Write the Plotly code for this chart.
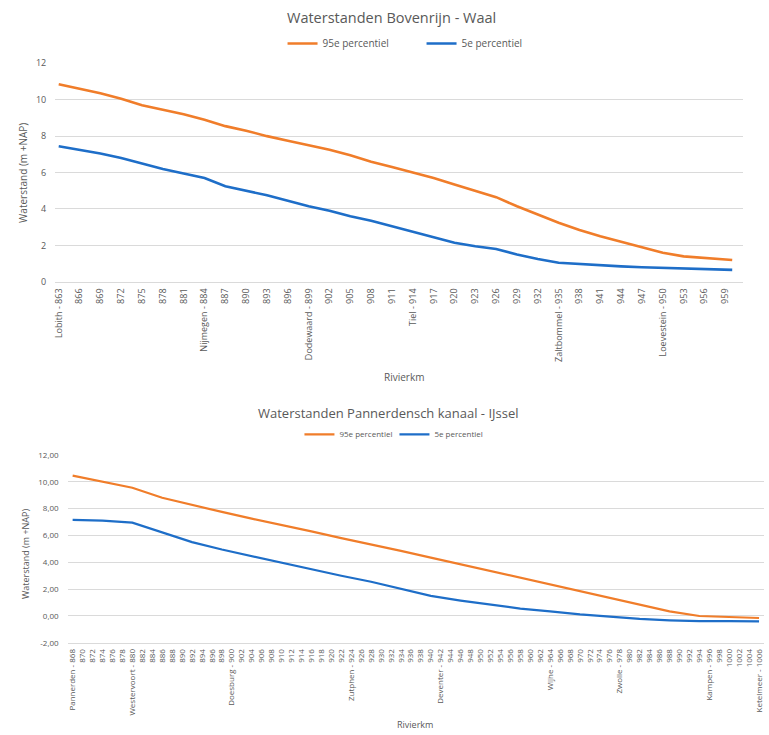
import plotly.graph_objects as go

W, H = 769, 735

# ---------- Top chart: Bovenrijn - Waal ----------
km_top = [863, 866, 869, 872, 875, 878, 881, 884, 887, 890, 893, 896, 899, 902, 905, 908,
          911, 914, 917, 920, 923, 926, 929, 932, 935, 938, 941, 944, 947, 950, 953, 956, 959, 960]
p95_top = [10.85, 10.6, 10.35, 10.05, 9.7, 9.45, 9.2, 8.9, 8.55, 8.3, 8.0, 7.75, 7.5, 7.25, 6.95, 6.6,
           6.3, 6.0, 5.7, 5.35, 5.0, 4.65, 4.15, 3.7, 3.25, 2.85, 2.5, 2.2, 1.9, 1.6, 1.4, 1.3, 1.22, 1.2]
p5_top = [7.45, 7.25, 7.05, 6.8, 6.5, 6.2, 5.95, 5.7, 5.25, 5.0, 4.75, 4.45, 4.15, 3.9, 3.6, 3.35,
          3.05, 2.75, 2.45, 2.15, 1.95, 1.8, 1.5, 1.25, 1.05, 0.97, 0.9, 0.85, 0.8, 0.76, 0.72, 0.7, 0.68, 0.66]
tick_km_top = list(range(863, 960, 3))
named_top = {863: "Lobith", 884: "Nijmegen", 899: "Dodewaard", 914: "Tiel",
             935: "Zaltbommel", 950: "Loevestein"}
tick_text_top = [f"{named_top[k]} - {k}" if k in named_top else str(k) for k in tick_km_top]
yticks_top = [0, 2, 4, 6, 8, 10, 12]

# ---------- Bottom chart: Pannerdensch kanaal - IJssel ----------
km_bot = [868, 874, 880, 886, 892, 898, 904, 910, 916, 922, 928, 934, 940, 946, 952, 958,
          964, 970, 976, 982, 988, 994, 1000, 1006]
p95_bot = [10.45, 10.0, 9.55, 8.8, 8.25, 7.75, 7.25, 6.8, 6.3, 5.8, 5.35, 4.85, 4.35, 3.85, 3.35, 2.85,
           2.35, 1.85, 1.35, 0.85, 0.35, 0.0, -0.08, -0.15]
p5_bot = [7.15, 7.1, 6.95, 6.2, 5.5, 4.95, 4.45, 4.0, 3.5, 3.0, 2.55, 2.0, 1.5, 1.15, 0.85, 0.55,
          0.35, 0.12, -0.05, -0.22, -0.32, -0.38, -0.38, -0.4]
tick_km_bot = list(range(868, 1007, 2))
named_bot = {868: "Pannerden", 880: "Westervoort", 900: "Doesburg", 924: "Zutphen",
             942: "Deventer", 964: "Wijhe", 978: "Zwolle", 996: "Kampen", 1006: "Ketelmeer"}
tick_text_bot = [f"{named_bot[k]} - {k}" if k in named_bot else str(k) for k in tick_km_bot]
yticks_bot = [-2, 0, 2, 4, 6, 8, 10, 12]
ytext_bot = [f"{v:.2f}".replace(".", ",") for v in yticks_bot]

ORANGE = "#F07D2A"
BLUE = "#1E6EC8"
TXT = "#595959"
GRID = "#DADADA"
FONT = "Open Sans"

def px_x(p):
    return p / W

def px_y(p):
    return 1 - p / H

fig = go.Figure()
fig.add_trace(go.Scatter(x=km_top, y=p95_top, mode="lines", name="95e percentiel",
                         line=dict(color=ORANGE, width=2.6), xaxis="x", yaxis="y", legend="legend"))
fig.add_trace(go.Scatter(x=km_top, y=p5_top, mode="lines", name="5e percentiel",
                         line=dict(color=BLUE, width=2.6), xaxis="x", yaxis="y", legend="legend"))
fig.add_trace(go.Scatter(x=km_bot, y=p95_bot, mode="lines", name="95e percentiel",
                         line=dict(color=ORANGE, width=2.2), xaxis="x2", yaxis="y2", legend="legend2"))
fig.add_trace(go.Scatter(x=km_bot, y=p5_bot, mode="lines", name="5e percentiel",
                         line=dict(color=BLUE, width=2.2), xaxis="x2", yaxis="y2", legend="legend2"))

fig.update_layout(
    width=W, height=H,
    margin=dict(l=0, r=0, t=0, b=0),
    paper_bgcolor="white", plot_bgcolor="white",
    font=dict(family=FONT, color=TXT),
    xaxis=dict(domain=[px_x(51.5), px_x(742.5)], range=[862.5, 961.5], anchor="y",
               tickmode="array", tickvals=tick_km_top, ticktext=tick_text_top, tickangle=-90,
               showline=True, linecolor=GRID, linewidth=1, showgrid=False, zeroline=False, ticks="",
               ticklabelstandoff=2, tickfont=dict(size=9, color=TXT, family=FONT)),
    yaxis=dict(domain=[px_y(279.8), px_y(57.3)], range=[0, 12], anchor="x",
               tickmode="array", tickvals=yticks_top, ticktext=[str(v) for v in yticks_top],
               showgrid=True, gridcolor=GRID, gridwidth=1, zeroline=False, ticks="",
               ticklabelstandoff=8, tickfont=dict(size=9, color=TXT, family=FONT)),
    xaxis2=dict(domain=[px_x(64), px_x(764)], range=[867, 1007], anchor="y2",
                tickmode="array", tickvals=tick_km_bot, ticktext=tick_text_bot, tickangle=-90,
                showline=True, linecolor=GRID, linewidth=1, showgrid=False, zeroline=False, ticks="",
                ticklabelstandoff=2, tickfont=dict(size=8, color=TXT, family=FONT)),
    yaxis2=dict(domain=[px_y(647.3), px_y(455.9)], range=[-2, 12], anchor="x2",
                tickmode="array", tickvals=yticks_bot, ticktext=ytext_bot,
                showgrid=True, gridcolor=GRID, gridwidth=1, zeroline=False, ticks="",
                ticklabelstandoff=8, tickfont=dict(size=8, color=TXT, family=FONT)),
    legend=dict(orientation="h", x=px_x(280), xanchor="left", y=px_y(37.2), yanchor="middle",
                font=dict(size=10, color=TXT, family=FONT), entrywidth=94,
                bgcolor="rgba(0,0,0,0)", borderwidth=0),
    legend2=dict(orientation="h", x=px_x(297), xanchor="left", y=px_y(435), yanchor="middle",
                 font=dict(size=8, color=TXT, family=FONT), entrywidth=50,
                 bgcolor="rgba(0,0,0,0)", borderwidth=0),
    showlegend=True,
)

annotations = [
    dict(text="Waterstanden Bovenrijn - Waal", x=px_x(390), y=px_y(11), xref="paper", yref="paper",
         showarrow=False, font=dict(size=14.5, color=TXT, family=FONT), yanchor="middle"),
    dict(text="Waterstand (m +NAP)", x=px_x(19), y=px_y(169), xref="paper", yref="paper",
         showarrow=False, textangle=-90, font=dict(size=10, color=TXT, family=FONT),
         xanchor="center", yanchor="middle"),
    dict(text="Rivierkm", x=px_x(402), y=px_y(377), xref="paper", yref="paper",
         showarrow=False, font=dict(size=10, color=TXT, family=FONT), yanchor="middle"),
    dict(text="Waterstanden Pannerdensch kanaal - IJssel", x=px_x(387), y=px_y(413), xref="paper", yref="paper",
         showarrow=False, font=dict(size=13, color=TXT, family=FONT), yanchor="middle"),
    dict(text="Waterstand (m +NAP)", x=px_x(21), y=px_y(557), xref="paper", yref="paper",
         showarrow=False, textangle=-90, font=dict(size=9, color=TXT, family=FONT),
         xanchor="center", yanchor="middle"),
    dict(text="Rivierkm", x=px_x(413), y=px_y(730), xref="paper", yref="paper",
         showarrow=False, font=dict(size=9, color=TXT, family=FONT), yanchor="middle"),
]
fig.update_layout(annotations=annotations)

fig.write_html("out.html",
               config={"displayModeBar": False},
               post_script="document.body.style.margin='0';document.body.style.padding='0';")
